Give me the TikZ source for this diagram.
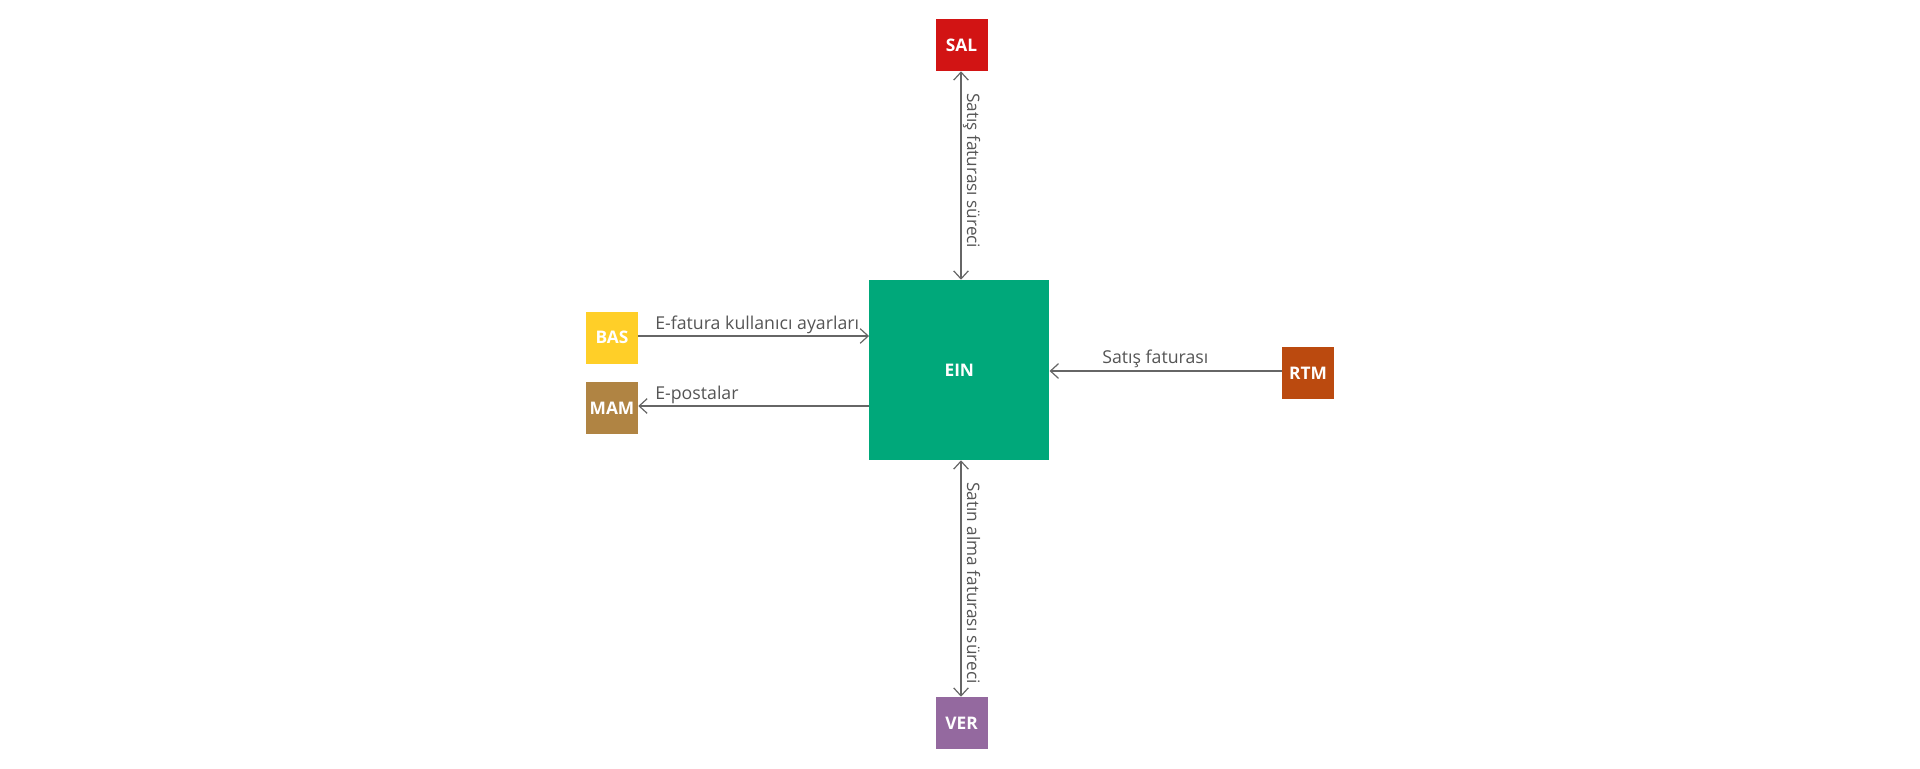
\documentclass[tikz,border=0pt]{standalone}
\usepackage{fontspec}
\setmainfont{Open Sans}
\usetikzlibrary{arrows.meta}
\definecolor{cSAL}{HTML}{D21414}
\definecolor{cEIN}{HTML}{00A87A}
\definecolor{cBAS}{HTML}{FFCF28}
\definecolor{cMAM}{HTML}{B08443}
\definecolor{cRTM}{HTML}{BB4A0F}
\definecolor{cVER}{HTML}{94699F}
\definecolor{cLine}{HTML}{666666}
\definecolor{cText}{HTML}{555555}
\tikzset{
  box/.style={draw=none, minimum width=52*0.75pt, minimum height=52*0.75pt, inner sep=0pt,
    text=white, font=\fontsize{13}{15}\selectfont\bfseries},
  bigbox/.style={box, minimum width=180*0.75pt, minimum height=180*0.75pt},
  conn/.style={draw=cLine, line width=0.9pt},
  lbl/.style={inner sep=0pt, text=cText, font=\fontsize{13.3}{15}\selectfont},
  vlbl/.style={lbl, rotate=-90, font=\fontsize{12.9}{15}\selectfont}
}
\begin{document}
\begin{tikzpicture}[x=0.75pt,y=-0.75pt]
\useasboundingbox (0,0) rectangle (1920,768);
\node[box, fill=cSAL] (SAL) at (961.5,45) {SAL};
\node[bigbox, fill=cEIN] (EIN) at (959.3,370) {EIN};
\node[box, fill=cBAS] (BAS) at (612,337.5) {BAS};
\node[box, fill=cMAM] (MAM) at (612,408) {MAM};
\node[box, fill=cRTM] (RTM) at (1308,373) {RTM};
\node[box, fill=cVER] (VER) at (961.5,723) {VER};
% connectors
\draw[conn, {Straight Barb[length=6pt,width=11pt]}-{Straight Barb[length=6pt,width=11pt]}] (SAL.south -| 961,0) -- (EIN.north -| 961,0);
\draw[conn, {Straight Barb[length=6pt,width=11pt]}-{Straight Barb[length=6pt,width=11pt]}] (EIN.south -| 961,0) -- (VER.north -| 961,0);
\draw[conn, -{Straight Barb[length=6pt,width=11pt]}] (BAS.east |- 0,336) -- (EIN.west |- 0,336);
\draw[conn, -{Straight Barb[length=6pt,width=11pt]}] (EIN.west |- 0,406) -- (MAM.east |- 0,406);
\draw[conn, -{Straight Barb[length=6pt,width=11pt]}] (RTM.west |- 0,371) -- (EIN.east |- 0,371);
% labels
\node[lbl, anchor=base west] (l1) at (655,329) {E-fatura kullanıcı ayarları};
\node[lbl, anchor=base west] (l2) at (655,399) {E-postalar};
\node[lbl, anchor=base west] (l3) at (1102,363.5) {Satış faturası};
\node[vlbl, anchor=base west] (l4) at (967,93) {Satış faturası süreci};
\node[vlbl, anchor=base west] (l5) at (967,482) {Satın alma faturası süreci};
\end{tikzpicture}
\end{document}
